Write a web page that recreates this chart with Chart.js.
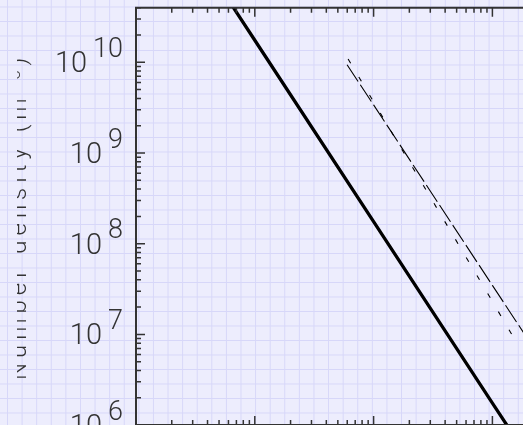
<!DOCTYPE html>
<html>
<head>
<meta charset="utf-8">
<script src="https://cdn.jsdelivr.net/npm/chart.js@4.4.1/dist/chart.umd.min.js"></script>
<style>
  html, body { margin: 0; padding: 0; width: 523px; height: 425px; overflow: hidden; }
  body {
    background-color: #ededfd;
    background-image:
      linear-gradient(to right, #d7d7f9 1px, transparent 1px),
      linear-gradient(to bottom, #d7d7f9 1px, transparent 1px);
    background-size: 14.6px 14.5px;
    background-position: 7px 6.5px;
  }
  canvas { position: absolute; left: 0; top: 0; }
</style>
</head>
<body>
<canvas id="plot" width="660" height="480"></canvas>
<script>
// Power-law number-density curves on log-log axes
const solidX = [5, 10, 100, 1000, 2000];
const solidY = [7.0e10, 1.75e10, 1.75e8, 1.75e6, 4.4e5];

const longDashX = [59.8, 100, 1000, 1900];
const longDashY = [9.4e9, 3.39e9, 3.47e7, 9.7e6];

const shortDashX = [61, 100, 1000, 1545];
const shortDashY = [1.09e10, 3.66e9, 2.31e7, 8.75e6];

const xRange = [1, 1e4];
const yRange = [1e6, 4e10];
const yDecadeExponents = [6, 7, 8, 9, 10];

const yTitleMain = 'Number density (m';
const yTitleSup = '\u22123';
const yTitleEnd = ')';

const toPoints = (xs, ys) => xs.map((x, i) => ({ x, y: ys[i] }));

const INK = '#333333';
const LABEL_FONT = 'Roboto, "DejaVu Sans", sans-serif';

// tick values (1..9 x 10^n) inside a log range
function logTicks(min, max) {
  const out = [];
  const e0 = Math.floor(Math.log10(min));
  const e1 = Math.ceil(Math.log10(max));
  for (let e = e0; e <= e1; e++) {
    for (let m = 1; m < 10; m++) {
      const v = m * Math.pow(10, e);
      if (v >= min * 0.9999 && v <= max * 1.0001) out.push({ v, major: m === 1 });
    }
  }
  return out;
}

const framePlugin = {
  id: 'frame',
  afterDatasetsDraw(chart) {
    const { ctx, chartArea: a, scales } = chart;
    const xs = scales.x, ys = scales.y;
    ctx.save();

    // axis box
    ctx.strokeStyle = INK;
    ctx.lineWidth = 2;
    ctx.beginPath();
    ctx.rect(a.left, a.top, a.right - a.left, a.bottom - a.top);
    ctx.stroke();

    // inward ticks
    ctx.lineWidth = 1.5;
    ctx.beginPath();
    for (const t of logTicks(xs.min, xs.max)) {
      const px = xs.getPixelForValue(t.v);
      const len = t.major ? 9 : 5;
      ctx.moveTo(px, a.top); ctx.lineTo(px, a.top + len);
      ctx.moveTo(px, a.bottom); ctx.lineTo(px, a.bottom - len);
    }
    for (const t of logTicks(ys.min, ys.max)) {
      const py = ys.getPixelForValue(t.v);
      const len = t.major ? 9 : 5;
      ctx.moveTo(a.left, py); ctx.lineTo(a.left + len, py);
      ctx.moveTo(a.right, py); ctx.lineTo(a.right - len, py);
    }
    ctx.stroke();

    // decade labels 10^n
    ctx.fillStyle = INK;
    ctx.textBaseline = 'alphabetic';
    const rightEdge = a.left - 13;
    for (const e of yDecadeExponents) {
      const py = ys.getPixelForValue(Math.pow(10, e));
      ctx.font = '300 27px ' + LABEL_FONT;
      const expTxt = String(e);
      const we = ctx.measureText(expTxt).width;
      ctx.textAlign = 'left';
      ctx.fillText(expTxt, rightEdge - we, py - 5.5);
      ctx.font = '300 29px ' + LABEL_FONT;
      const wb = ctx.measureText('10').width;
      ctx.fillText('10', rightEdge - we - 6 - wb, py + 10);
    }

    // rotated axis title, clipped on its left side
    ctx.save();
    ctx.beginPath();
    ctx.rect(17, 0, 700, 500);
    ctx.clip();
    ctx.translate(25.5, 380);
    ctx.rotate(-Math.PI / 2);
    ctx.textAlign = 'left';
    ctx.letterSpacing = '5px';
    ctx.font = '300 24px ' + LABEL_FONT;
    ctx.fillText(yTitleMain, 0, 0);
    let w = ctx.measureText(yTitleMain).width;
    ctx.font = '300 16px ' + LABEL_FONT;
    ctx.fillText(yTitleSup, w, -6);
    w += ctx.measureText(yTitleSup).width;
    ctx.font = '300 24px ' + LABEL_FONT;
    ctx.fillText(yTitleEnd, w, 0);
    ctx.restore();

    ctx.restore();
  }
};

new Chart(document.getElementById('plot'), {
  type: 'line',
  data: {
    datasets: [
      {
        data: toPoints(solidX, solidY),
        borderColor: '#000000',
        borderWidth: 3.3,
        pointRadius: 0,
        fill: false,
        tension: 0
      },
      {
        data: toPoints(longDashX, longDashY),
        borderColor: '#000000',
        borderWidth: 1.1,
        borderDash: [20, 4],
        pointRadius: 0,
        fill: false,
        tension: 0
      },
      {
        data: toPoints(shortDashX, shortDashY),
        borderColor: '#000000',
        borderWidth: 1.1,
        borderDash: [5, 16],
        pointRadius: 0,
        fill: false,
        tension: 0
      }
    ]
  },
  options: {
    responsive: false,
    animation: false,
    devicePixelRatio: 1,
    layout: { padding: { left: 136, top: 7.7, right: 48.8, bottom: 54.9 } },
    plugins: { legend: { display: false }, tooltip: { enabled: false } },
    scales: {
      x: { type: 'logarithmic', min: xRange[0], max: xRange[1], display: false },
      y: { type: 'logarithmic', min: yRange[0], max: yRange[1], display: false }
    }
  },
  plugins: [framePlugin]
});
</script>
</body>
</html>
